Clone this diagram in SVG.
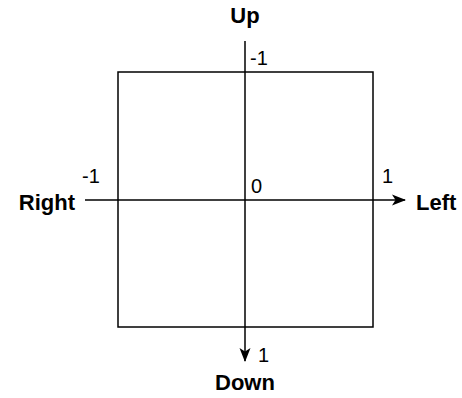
<svg xmlns="http://www.w3.org/2000/svg" width="462" height="398" viewBox="0 0 462 398">
<style>
.t{font-family:"Liberation Sans",Arial,sans-serif;font-size:20px;fill:#000}
.b{font-family:"Liberation Sans",Arial,sans-serif;font-size:22px;font-weight:bold;fill:#000}
.ln{stroke:#000;stroke-width:1.5;fill:none}
</style>
<defs>
<marker id="ah" viewBox="0 0 14 12" refX="13" refY="6" markerWidth="14" markerHeight="12" markerUnits="userSpaceOnUse" orient="auto">
<path d="M0,0.5 L14,6 L0,11.5 L3.5,6 Z" fill="#000"/>
</marker>
</defs>
<rect width="462" height="398" fill="#fff"/>
<g id="square"><rect class="ln" x="118" y="72" width="255" height="255"/></g>
<g id="connectors">
<line class="ln" x1="245" y1="41" x2="245" y2="361" marker-end="url(#ah)"/>
<line class="ln" x1="85" y1="200" x2="405" y2="200" marker-end="url(#ah)"/>
</g>
<g id="labels">
<text class="b" x="245" y="23" text-anchor="middle">Up</text>
<text class="b" x="75" y="210" text-anchor="end">Right</text>
<text class="b" x="416" y="210">Left</text>
<text class="b" x="245" y="390" text-anchor="middle">Down</text>
<text class="t" x="250" y="65">-1</text>
<text class="t" x="82" y="183">-1</text>
<text class="t" x="382" y="183">1</text>
<text class="t" x="251" y="193">0</text>
<text class="t" x="258" y="362">1</text>
</g>
</svg>
